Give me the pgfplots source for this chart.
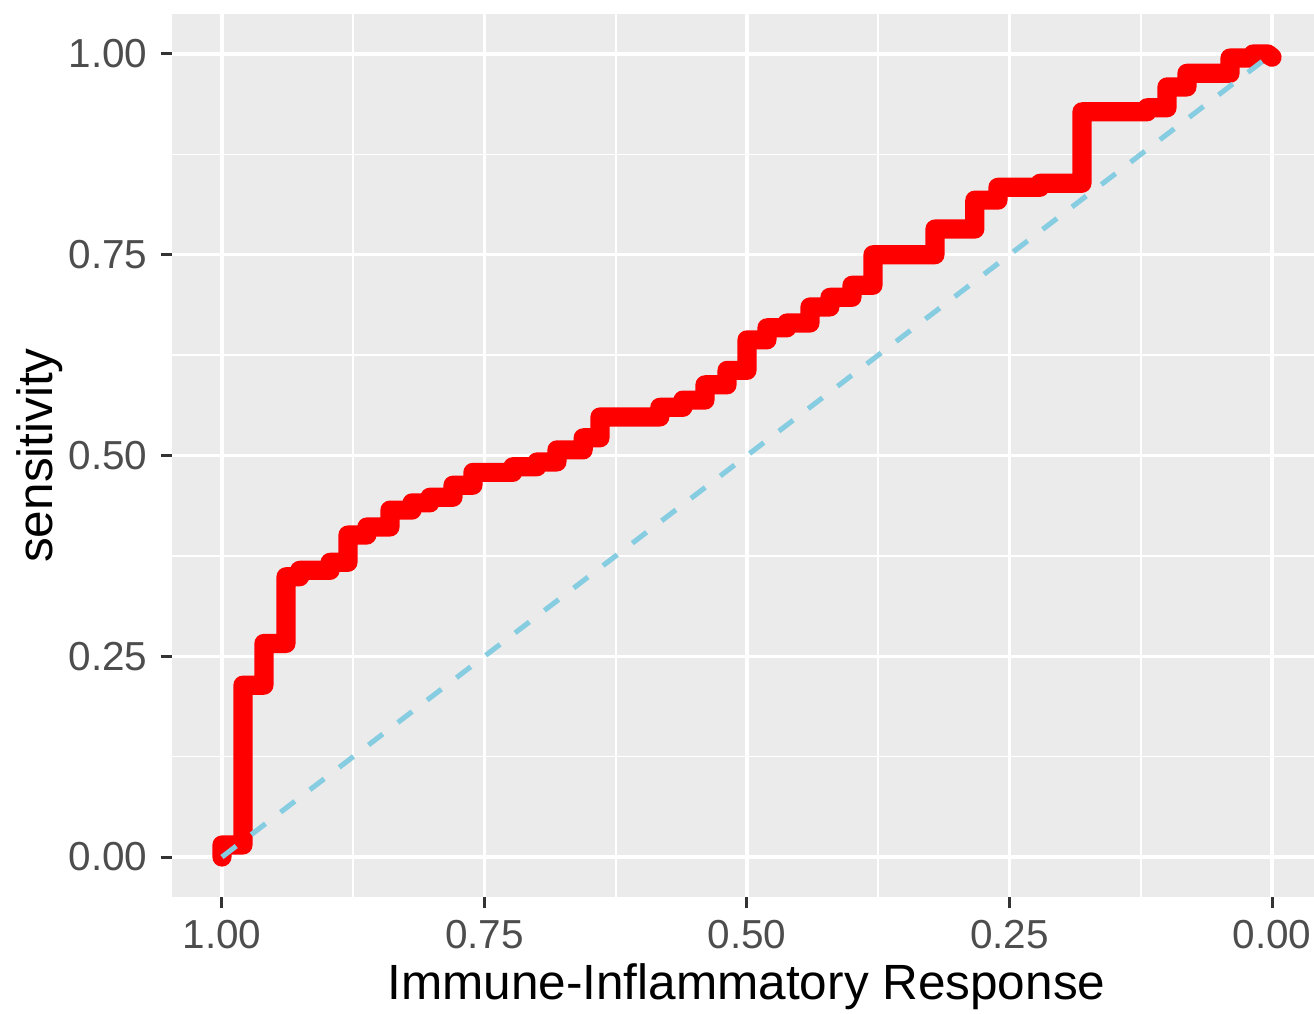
\documentclass[border=0pt]{standalone}
\usepackage{fontspec}
\setmainfont{Liberation Sans}
\usepackage{pgfplots}
\pgfplotsset{compat=1.18}
\definecolor{panelbg}{HTML}{EBEBEB}
\definecolor{tickcol}{HTML}{333333}
\definecolor{labcol}{HTML}{4D4D4D}
\definecolor{diag}{RGB}{135,205,225}
\begin{document}
\begin{tikzpicture}
\begin{axis}[
  scale only axis, width=380.67pt, height=294.33pt,
  x dir=reverse,
  xmin=-0.04, xmax=1.0476, ymin=-0.0498, ymax=1.0498,
  axis background/.style={fill=panelbg},
  axis line style={draw=none},
  xtick={0,0.25,0.5,0.75,1}, ytick={0,0.25,0.5,0.75,1},
  xticklabels={0.00,0.25,0.50,0.75,1.00}, yticklabels={0.00,0.25,0.50,0.75,1.00},
  minor xtick={0.125,0.375,0.625,0.875}, minor ytick={0.125,0.375,0.625,0.875},
  grid=both,
  major grid style={white, line width=1.1pt},
  minor grid style={white, line width=0.55pt},
  tick align=outside, tick pos=left,
  major tick length=3.8pt, minor tick length=0pt,
  every tick/.style={tickcol, line width=1pt},
  ticklabel style={font=\fontsize{13.5}{13.5}\selectfont, text=labcol, inner sep=0pt},
  yticklabel style={anchor=east, xshift=-4.2pt},
  xticklabel style={anchor=north, yshift=-3.9pt},
  xlabel={Immune-Inflammatory Response}, ylabel={sensitivity},
  label style={font=\fontsize{16.5}{16.5}\selectfont, inner sep=0pt},
  xlabel style={at={(axis description cs:0.503,-0.1165)}, anchor=base},
  ylabel style={at={(axis description cs:-0.1045,0.5)}, anchor=base, rotate=0},
  clip=false,
]
\addplot[red, line width=6.4pt, line cap=round, line join=round] coordinates {
(1.000,0) (1.000,0.015) (0.980,0.015) (0.980,0.214) (0.960,0.214) (0.960,0.266)
(0.939,0.266) (0.939,0.349) (0.926,0.349) (0.926,0.357) (0.897,0.357) (0.897,0.367)
(0.880,0.367) (0.880,0.401) (0.862,0.401) (0.862,0.411) (0.840,0.411) (0.840,0.432)
(0.819,0.432) (0.819,0.441) (0.802,0.441) (0.802,0.448) (0.780,0.448) (0.780,0.463)
(0.761,0.463) (0.761,0.479) (0.723,0.479) (0.723,0.486) (0.700,0.486) (0.700,0.492)
(0.681,0.492) (0.681,0.507) (0.656,0.507) (0.656,0.522) (0.640,0.522) (0.640,0.548)
(0.583,0.548) (0.583,0.560) (0.561,0.560) (0.561,0.569) (0.540,0.569) (0.540,0.588)
(0.519,0.588) (0.519,0.606) (0.500,0.606) (0.500,0.644) (0.481,0.644) (0.481,0.659)
(0.462,0.659) (0.462,0.665) (0.440,0.665) (0.440,0.685) (0.421,0.685) (0.421,0.697)
(0.400,0.697) (0.400,0.712) (0.380,0.712) (0.380,0.750) (0.321,0.750) (0.321,0.782)
(0.283,0.782) (0.283,0.818) (0.261,0.818) (0.261,0.834) (0.221,0.834) (0.221,0.839)
(0.181,0.839) (0.181,0.928) (0.119,0.928) (0.119,0.933) (0.100,0.933) (0.100,0.959)
(0.081,0.959) (0.081,0.976) (0.040,0.976) (0.040,0.995) (0.018,0.995) (0.018,1.000)
(0.004,1.000) (0.000,0.996)
};
\addplot[diag, line width=1.7pt, dash pattern=on 6pt off 6.3pt] coordinates {(1,0) (0,1)};
\end{axis}
\pgfresetboundingbox
\path[use as bounding box] (-57.33pt,-38.67pt) rectangle (380.67pt,299pt);
\end{tikzpicture}
\end{document}
